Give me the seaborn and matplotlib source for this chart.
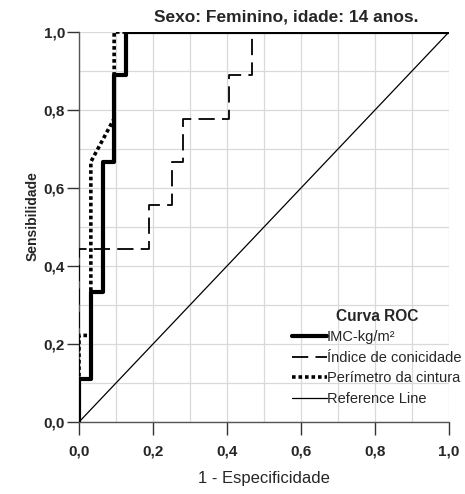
import matplotlib
matplotlib.use("Agg")
import matplotlib.pyplot as plt
import seaborn as sns
import numpy as np
from matplotlib.ticker import MultipleLocator, FuncFormatter

sns.set_style("white")
plt.rcParams['font.family'] = ['Liberation Sans', 'DejaVu Sans']

# ROC curve vertices (1 - specificity, sensitivity)
imc_fpr = [0.0, 0.0, 0.033, 0.033, 0.065, 0.065, 0.095, 0.095, 0.128, 0.128, 1.0]
imc_tpr = [0.0, 0.111, 0.111, 0.333, 0.333, 0.667, 0.667, 0.889, 0.889, 1.0, 1.0]

ic_fpr = [0.0, 0.0, 0.19, 0.19, 0.25, 0.25, 0.28, 0.28, 0.405, 0.405, 0.467, 0.467, 1.0]
ic_tpr = [0.0, 0.444, 0.444, 0.556, 0.556, 0.667, 0.667, 0.778, 0.778, 0.889, 0.889, 1.0, 1.0]

pc_fpr = [0.0, 0.0, 0.032, 0.032, 0.095, 0.095, 1.0]
pc_tpr = [0.0, 0.222, 0.222, 0.667, 0.778, 1.0, 1.0]

ref_x = [0.0, 1.0]
ref_y = [0.0, 1.0]

title = "Sexo: Feminino, idade: 14 anos."
xlabel = "1 - Especificidade"
ylabel = "Sensibilidade"
legend_title = "Curva ROC"
names = ["IMC-kg/m²", "Índice de conicidade", "Perímetro da cintura", "Reference Line"]

W, H = 465, 494
fig = plt.figure(figsize=(W/100, H/100), dpi=100)
ax = fig.add_axes([79/W, 1-422/H, 370/W, 390/H])

ax.xaxis.set_minor_locator(MultipleLocator(0.1))
ax.yaxis.set_minor_locator(MultipleLocator(0.1))
ax.grid(True, which='both', color='#d9d9d9', linewidth=0.9, zorder=0)
ax.set_axisbelow(True)

sns.lineplot(x=imc_fpr, y=imc_tpr, sort=False, estimator=None, ax=ax,
             color='black', linewidth=3.0, label=names[0], zorder=4)
sns.lineplot(x=ic_fpr, y=ic_tpr, sort=False, estimator=None, ax=ax,
             color='black', linewidth=1.3, label=names[1], zorder=3)
ax.lines[-1].set_dashes([9, 4])
sns.lineplot(x=pc_fpr, y=pc_tpr, sort=False, estimator=None, ax=ax,
             color='black', linewidth=2.6, label=names[2], zorder=5)
ax.lines[-1].set_dashes([1.0, 0.8])
sns.lineplot(x=ref_x, y=ref_y, sort=False, estimator=None, ax=ax,
             color='black', linewidth=0.9, label=names[3], zorder=2)

ax.set_xlim(0, 1)
ax.set_ylim(0, 1)
ax.xaxis.set_major_locator(MultipleLocator(0.2))
ax.yaxis.set_major_locator(MultipleLocator(0.2))
fmt = FuncFormatter(lambda v, p: f"{v:.1f}".replace('.', ','))
ax.xaxis.set_major_formatter(fmt)
ax.yaxis.set_major_formatter(fmt)
ax.tick_params(axis='x', which='major', direction='out', length=9.5, width=1,
               color='#333333', labelsize=11, pad=6.5, bottom=True)
ax.tick_params(axis='y', which='major', direction='out', length=9, width=1,
               color='#333333', labelsize=11, pad=1, left=True)
ax.tick_params(axis='both', which='minor', length=0)
for lab in ax.get_xticklabels() + ax.get_yticklabels():
    lab.set_fontweight('bold')

for s in ['top', 'right']:
    ax.spines[s].set_visible(False)
for s in ['left', 'bottom']:
    ax.spines[s].set_color('#555555')
    ax.spines[s].set_linewidth(1.0)

ax.set_xlabel(xlabel, fontsize=12, va='center')
ax.xaxis.set_label_coords(0.5, (422-478)/390)
ax.set_ylabel(ylabel, fontsize=10, fontweight='bold', va='center')
ax.yaxis.set_label_coords((33-79)/370, (422-216)/390)

fig.text(286/W, 1-16.5/H, title, ha='center', va='center', fontsize=12.5, fontweight='bold')

leg = ax.legend(loc='lower left', bbox_to_anchor=(292/W, 1-406/H),
                bbox_transform=fig.transFigure, frameon=False,
                title=legend_title, fontsize=10.5, handlelength=2.4, handletextpad=0.0,
                labelspacing=0.45, borderpad=0, borderaxespad=0)
leg.get_title().set_fontweight('bold')
leg.get_title().set_fontsize(11.2)

fig.savefig("out.png", dpi=100)
